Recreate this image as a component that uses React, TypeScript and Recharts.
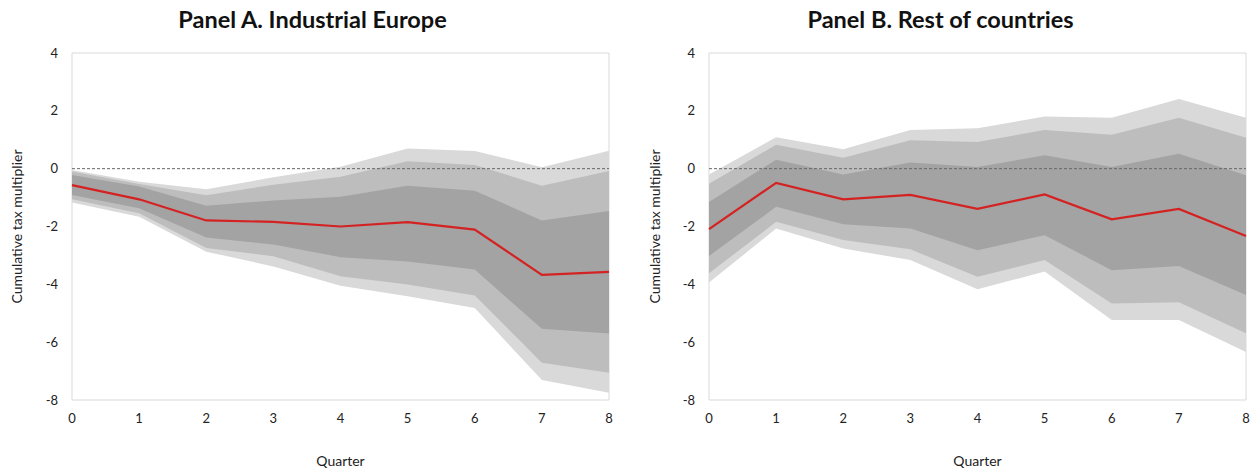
import React from 'react'
import { ComposedChart, Area, Line, XAxis, YAxis, ReferenceLine, ReferenceArea } from 'recharts'

const quarters = [0, 1, 2, 3, 4, 5, 6, 7, 8]
const yTicks = [-8, -6, -4, -2, 0, 2, 4]

// Panel A. Industrial Europe
const medianA  = [-0.57, -1.06, -1.79, -1.84, -2.0, -1.85, -2.11, -3.67, -3.57]
const innerHiA = [-0.22, -0.62, -1.28, -1.1, -0.97, -0.59, -0.76, -1.79, -1.46]
const innerLoA = [-0.91, -1.37, -2.38, -2.62, -3.06, -3.21, -3.49, -5.54, -5.7]
const midHiA   = [-0.1, -0.53, -0.92, -0.56, -0.28, 0.26, 0.13, -0.59, -0.08]
const midLoA   = [-1.06, -1.54, -2.74, -3.03, -3.72, -4.01, -4.39, -6.71, -7.06]
const outerHiA = [-0.05, -0.45, -0.71, -0.3, 0.07, 0.7, 0.61, 0.05, 0.62]
const outerLoA = [-1.17, -1.66, -2.87, -3.38, -4.05, -4.41, -4.82, -7.31, -7.75]

// Panel B. Rest of countries
const medianB  = [-2.09, -0.49, -1.06, -0.91, -1.39, -0.89, -1.75, -1.39, -2.33]
const innerHiB = [-1.15, 0.31, -0.2, 0.21, 0.06, 0.46, 0.06, 0.52, -0.23]
const innerLoB = [-3.02, -1.32, -1.92, -2.07, -2.82, -2.3, -3.51, -3.37, -4.37]
const midHiB   = [-0.52, 0.83, 0.38, 0.98, 0.92, 1.34, 1.17, 1.76, 1.07]
const midLoB   = [-3.62, -1.84, -2.47, -2.79, -3.74, -3.16, -4.66, -4.62, -5.69]
const outerHiB = [-0.2, 1.09, 0.67, 1.34, 1.4, 1.8, 1.76, 2.41, 1.76]
const outerLoB = [-3.94, -2.07, -2.76, -3.16, -4.17, -3.56, -5.23, -5.23, -6.34]

const FONT = 'Lato, "Open Sans", sans-serif'

function rows(med: number[], iLo: number[], iHi: number[], mLo: number[], mHi: number[], oLo: number[], oHi: number[]) {
  return quarters.map((q, i) => ({
    q,
    median: med[i],
    inner: [iLo[i], iHi[i]],
    mid: [mLo[i], mHi[i]],
    outer: [oLo[i], oHi[i]],
  }))
}

function Panel({ title, data, left, width, plotLeft, plotRight, labelOffset }: any) {
  const tick = { fontSize: 13, fill: '#222', fontFamily: FONT }
  return (
    <div style={{ position: 'absolute', left, top: 0, width, height: 470 }}>
      {/* titulo centrado na largura toda do painel */}
      <div style={{
        position: 'absolute', top: 5, left: 0, width,
        textAlign: 'center', fontFamily: FONT, fontWeight: 700, fontSize: 23.5, color: '#111',
      }}>{title}</div>
      <ComposedChart width={width} height={470} data={data}
        margin={{ top: 53, right: plotRight, bottom: 4, left: plotLeft - 62 }}>
        <ReferenceArea x1={0} x2={8} y1={-8} y2={4} fill="none" stroke="#d9d9d9" strokeWidth={1} />
        <ReferenceLine y={0} stroke="#666" strokeDasharray="3 2" strokeWidth={1} />
        <XAxis dataKey="q" type="number" domain={[0, 8]} ticks={quarters} axisLine={false} tickLine={false}
          tick={tick} tickMargin={8} height={66} interval={0}
          label={{ value: 'Quarter', position: 'insideBottom', offset: 0, style: { fontSize: 14, fill: '#222', fontFamily: FONT } }} />
        <YAxis type="number" domain={[-8, 4]} ticks={yTicks} axisLine={false} tickLine={false}
          tick={tick} tickMargin={8} width={62} interval={0}
          label={{ value: 'Cumulative tax multiplier', angle: -90, position: 'insideLeft', offset: labelOffset,
            style: { textAnchor: 'middle', fontSize: 14, fill: '#222', fontFamily: FONT } }} />
        <Area dataKey="outer" type="linear" fill="#d9d9d9" fillOpacity={1} stroke="none" isAnimationActive={false} />
        <Area dataKey="mid" type="linear" fill="#bdbdbd" fillOpacity={1} stroke="none" isAnimationActive={false} />
        <Area dataKey="inner" type="linear" fill="#a3a3a3" fillOpacity={1} stroke="none" isAnimationActive={false} />
        <Line dataKey="median" type="linear" stroke="#d42222" strokeWidth={2.2} dot={false} isAnimationActive={false} />
      </ComposedChart>
    </div>
  )
}

export default function App() {
  const dataA = rows(medianA, innerLoA, innerHiA, midLoA, midHiA, outerLoA, outerHiA)
  const dataB = rows(medianB, innerLoB, innerHiB, midLoB, midHiB, outerLoB, outerHiB)
  return (
    <div style={{ position: 'absolute', left: 0, top: 0, width: 1251, height: 470, background: '#fff' }}>
      <Panel title="Panel A. Industrial Europe" data={dataA} left={0} width={625} plotLeft={72} plotRight={16} labelOffset={7} />
      <Panel title="Panel B. Rest of countries" data={dataB} left={630} width={621} plotLeft={79} plotRight={5} labelOffset={8} />
    </div>
  )
}
